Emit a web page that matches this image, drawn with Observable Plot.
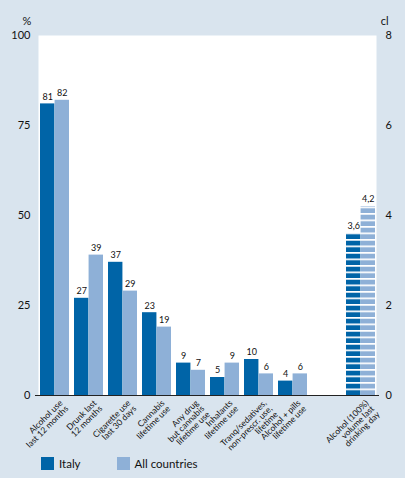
<!DOCTYPE html>
<html>
<head>
<meta charset="utf-8">
<script src="https://cdn.jsdelivr.net/npm/d3@7"></script>
<script src="https://cdn.jsdelivr.net/npm/@observablehq/plot@0.6"></script>
<style>
  html, body { margin: 0; padding: 0; background: #d9e4ee; }
  body { width: 405px; height: 478px; overflow: hidden; font-family: Lato, "Noto Sans", sans-serif; }
  #chart svg { display: block; }
  .legend { display: flex; align-items: center; margin: 2px 0 0 41px; height: 13px; font-size: 11.5px; color: #111; }
  .legend .sw { width: 13px; height: 13px; display: inline-block; margin-right: 5px; }
  .legend .item { display: flex; align-items: center; margin-right: 36px; }
</style>
</head>
<body>
<div id="chart"></div>
<div class="legend">
  <span class="item"><span class="sw" style="background:#0064a7"></span>Italy</span>
  <span class="item"><span class="sw" style="background:#8eb0d7"></span>All countries</span>
</div>
<script>
// ---- data ----
const categories = [
  "Alcohol use\nlast 12 months",
  "Drunk last\n12 months",
  "Cigarette use\nlast 30 days",
  "Cannabis\nlifetime use",
  "Any drug\nbut cannabis\nlifetime use",
  "Inhalants\nlifetime use",
  "Tranq/sedatives,\nnon-prescr. use,\nlifetime",
  "Alcohol + pills\nlifetime use"
];
const italy = [81, 27, 37, 23, 9, 5, 10, 4];
const allCountries = [82, 39, 29, 19, 7, 9, 6, 6];
const volumeCategory = "Alcohol (100%)\nvolume last\ndrinking day";
const volumeItaly = 3.6;   // cl
const volumeAll = 4.2;     // cl
const leftTicks = [0, 25, 50, 75, 100];   // %
const rightTicks = [0, 2, 4, 6, 8];       // cl

// ---- layout / styles ----
const W = 405, H = 455;
const mL = 38, mR = 29, mT = 35, mB = 60;
const dark = "#0064a7", light = "#8eb0d7";
const GAP = "__gap__";
const domain = [...categories, GAP, volumeCategory];
const clToPct = 100 / 8;

const xs = Plot.scale({x: {type: "band", domain, range: [mL, W - mR], paddingInner: 0.15, paddingOuter: 0}});
const bw = xs.bandwidth;
const half = bw / 2;

const fmt = v => String(v).replace(".", ",");
const italyRows = categories.map((c, i) => ({cat: c, value: italy[i], label: fmt(italy[i]), striped: false}))
  .concat([{cat: volumeCategory, value: volumeItaly * clToPct, label: fmt(volumeItaly), striped: true}]);
const allRows = categories.map((c, i) => ({cat: c, value: allCountries[i], label: fmt(allCountries[i]), striped: false}))
  .concat([{cat: volumeCategory, value: volumeAll * clToPct, label: fmt(volumeAll), striped: true}]);

const labelFont = {fontSize: 9, fill: "#111"};

const plot = Plot.plot({
  width: W, height: H,
  marginLeft: mL, marginRight: mR, marginTop: mT, marginBottom: mB,
  style: {fontFamily: "Lato, 'Noto Sans', sans-serif", background: "transparent", color: "#111"},
  x: {type: "band", domain, paddingInner: 0.15, paddingOuter: 0, axis: null},
  y: {domain: [0, 100], axis: null},
  marks: [
    Plot.frame({fill: "white", stroke: null}),
    Plot.barY(italyRows, {x: "cat", y: "value", insetRight: half, insetLeft: 0,
      fill: d => d.striped ? "url(#stripeDark)" : dark}),
    Plot.barY(allRows, {x: "cat", y: "value", insetLeft: half, insetRight: 0,
      fill: d => d.striped ? "url(#stripeLight)" : light}),
    Plot.text(italyRows, {x: "cat", y: "value", text: "label", dx: -bw / 4, dy: -7, ...labelFont}),
    Plot.text(allRows, {x: "cat", y: "value", text: "label", dx: bw / 4, dy: -7, ...labelFont}),
    Plot.ruleY([0], {stroke: "#222", strokeWidth: 1.2, insetLeft: -3, insetRight: -3}),
    Plot.axisY(leftTicks, {anchor: "left", tickSize: 0, tickPadding: 8, fontSize: 11, label: null}),
    Plot.axisY(rightTicks.map(t => t * clToPct), {anchor: "right", tickSize: 0, tickPadding: 9,
      tickFormat: d => d / clToPct, fontSize: 11, label: null, textAnchor: "start"}),
    Plot.text(["%"], {frameAnchor: "top-left", dx: -16, dy: -18, fontSize: 11, text: d => d}),
    Plot.text(["cl"], {frameAnchor: "top-right", dx: 12, dy: -18, fontSize: 11, text: d => d}),
    Plot.text(domain.filter(d => d !== GAP), {x: d => d, frameAnchor: "bottom", text: d => d,
      rotate: -45, textAnchor: "end", lineAnchor: "top", dx: 4, dy: 4, fontSize: 8.5, lineHeight: 0.95, fill: "#111"})
  ]
});

// stripe patterns for the cl bars
const ns = "http://www.w3.org/2000/svg";
const defs = document.createElementNS(ns, "defs");
for (const [id, col] of [["stripeDark", dark], ["stripeLight", light]]) {
  const p = document.createElementNS(ns, "pattern");
  p.setAttribute("id", id);
  p.setAttribute("patternUnits", "userSpaceOnUse");
  p.setAttribute("x", 0); p.setAttribute("y", H - mB);
  p.setAttribute("width", 20); p.setAttribute("height", 6.5);
  const bg = document.createElementNS(ns, "rect");
  bg.setAttribute("width", 20); bg.setAttribute("height", 6.5); bg.setAttribute("fill", "white");
  const r = document.createElementNS(ns, "rect");
  r.setAttribute("y", 1.7); r.setAttribute("width", 20); r.setAttribute("height", 4.8); r.setAttribute("fill", col);
  p.appendChild(bg); p.appendChild(r);
  defs.appendChild(p);
}
plot.insertBefore(defs, plot.firstChild);
document.getElementById("chart").appendChild(plot);
</script>
</body>
</html>
